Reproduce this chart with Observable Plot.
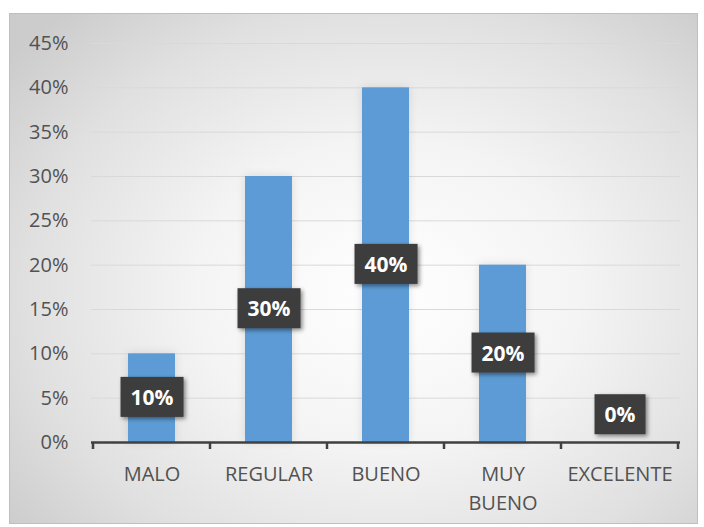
<!DOCTYPE html>
<html>
<head>
<meta charset="utf-8">
<script src="https://cdn.jsdelivr.net/npm/d3@7"></script>
<script src="https://cdn.jsdelivr.net/npm/@observablehq/plot@0.6"></script>
<style>
  html, body { margin: 0; padding: 0; background: #fff; }
  #wrap { position: relative; width: 704px; height: 527px; overflow: hidden; }
  #bg { position: absolute; left: 9px; top: 13px; width: 687px; height: 509px;
        border: 1px solid #bfbfbf;
        background: radial-gradient(ellipse 70% 75% at 55% 55%, #ffffff 0%, #f4f4f4 40%, #e0e0e0 75%, #cccccc 100%); }
  #chart { position: absolute; left: 0; top: 0; }
</style>
</head>
<body>
<div id="wrap"><div id="bg"></div><div id="chart"></div></div>
<script>
const categories = ["MALO", "REGULAR", "BUENO", "MUY BUENO", "EXCELENTE"];
const values = [0.10, 0.30, 0.40, 0.20, 0.00];
const yTicks = [0, 0.05, 0.10, 0.15, 0.20, 0.25, 0.30, 0.35, 0.40, 0.45];
const barColor = "#5B9BD5";
const textColor = "#525252";

const data = categories.map((cat, i) => ({cat, value: values[i]}));
const pct = d => Math.round(d * 100) + "%";

const plot = Plot.plot({
  width: 704,
  height: 527,
  marginLeft: 91,
  marginRight: 24,
  marginTop: 43,
  marginBottom: 85,
  style: {background: "transparent", fontFamily: "'Open Sans', sans-serif", fontSize: "20px", color: textColor},
  x: {domain: categories, paddingInner: 0.6, paddingOuter: 0.3},
  y: {domain: [0, 0.45]},
  marks: [
    Plot.gridY(yTicks, {stroke: "#d9d9d9", strokeOpacity: 1, strokeWidth: 1}),
    Plot.axisY(yTicks, {tickSize: 0, tickPadding: 23, tickFormat: pct, label: null, fill: textColor}),
    Plot.axisX({tickSize: 0, tickPadding: 18, label: null, lineHeight: 1.45, fill: textColor,
                tickFormat: d => d.replace(" ", "\n")}),
    Plot.barY(data, {x: "cat", y: "value", fill: barColor}),
    Plot.ruleY([0], {stroke: "#404040", strokeWidth: 2.5}),
    Plot.text(data.filter(d => d.value > 0), {x: "cat", y: d => d.value / 2, text: d => pct(d.value),
              fill: "white", fontWeight: "bold", fontSize: 21}),
    Plot.text(data.filter(d => d.value === 0), {x: "cat", y: "value", dy: -27, text: d => pct(d.value),
              fill: "white", fontWeight: "bold", fontSize: 21})
  ]
});

document.getElementById("chart").appendChild(plot);

// filters
const svg = d3.select(plot);
const defs = svg.insert("defs", ":first-child");
defs.append("filter").attr("id", "boxShadow").attr("x", "-20%").attr("y", "-20%").attr("width", "150%").attr("height", "150%")
  .append("feDropShadow").attr("dx", 2).attr("dy", 2).attr("stdDeviation", 2).attr("flood-color", "#000").attr("flood-opacity", 0.45);
defs.append("filter").attr("id", "barShadow").attr("x", "-30%").attr("y", "-5%").attr("width", "160%").attr("height", "110%")
  .append("feDropShadow").attr("dx", 0).attr("dy", 0).attr("stdDeviation", 4).attr("flood-color", "#000").attr("flood-opacity", 0.12);

svg.selectAll("g[aria-label='bar']").attr("filter", "url(#barShadow)");

// x axis boundary ticks using the plot's own scales
const sx = plot.scale("x");
const sy = plot.scale("y");
const y0 = sy.apply(0);
const bounds = categories.map(c => sx.apply(c) + sx.bandwidth / 2 - sx.step / 2);
bounds.push(bounds[bounds.length - 1] + sx.step);
const tg = svg.append("g").attr("stroke", "#404040").attr("stroke-width", 2.5);
bounds.forEach(x => tg.append("line").attr("x1", x).attr("x2", x).attr("y1", y0).attr("y2", y0 + 7));

// label boxes behind value labels (same transform as the text)
svg.selectAll("g[aria-label='text'] text").each(function() {
  const b = this.getBBox();
  const padX = 10, padY = 6;
  const r = d3.select(this.parentNode).insert("rect", () => this)
    .attr("x", b.x - padX).attr("y", b.y - padY)
    .attr("width", b.width + 2 * padX).attr("height", b.height + 2 * padY)
    .attr("fill", "#3d3d3d").attr("filter", "url(#boxShadow)");
  const t = this.getAttribute("transform");
  if (t) r.attr("transform", t);
  const gt = this.parentNode.getAttribute("transform");
});
</script>
</body>
</html>
